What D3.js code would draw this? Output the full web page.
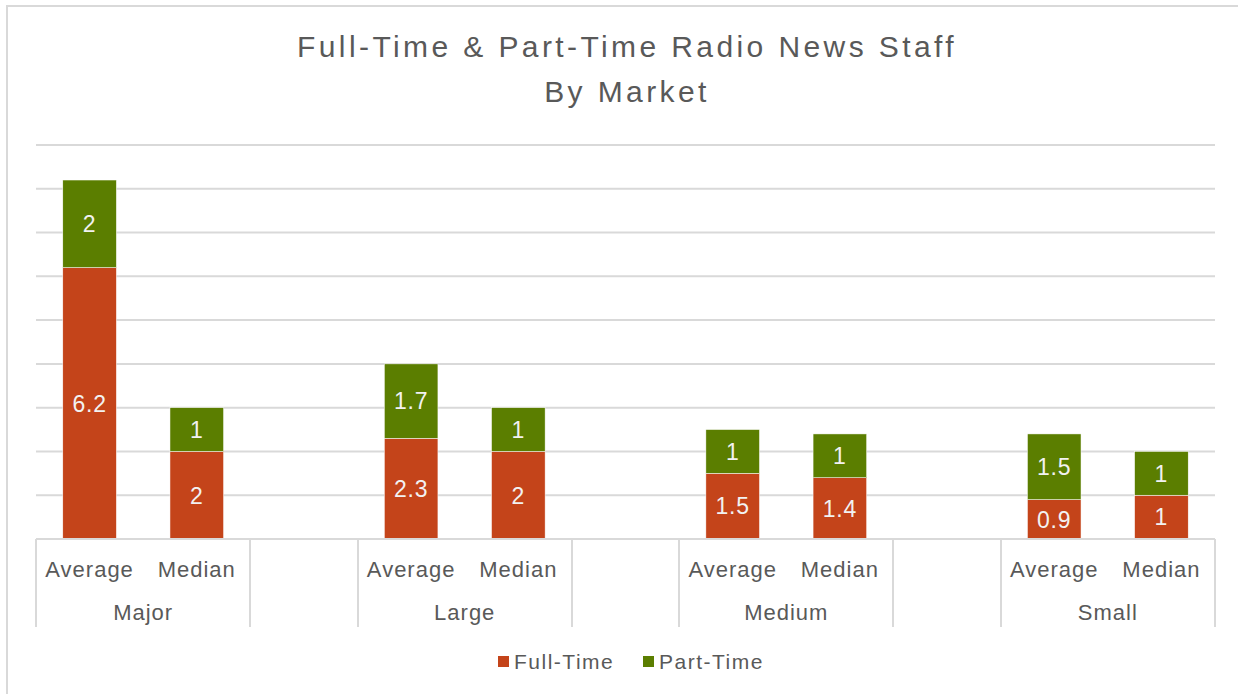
<!DOCTYPE html>
<html>
<head>
<meta charset="utf-8">
<script src="https://cdn.jsdelivr.net/npm/d3@7"></script>
<style>
  html, body { margin: 0; padding: 0; background: #ffffff; }
  svg { display: block; }
  text { font-family: "Liberation Sans", Arial, sans-serif; }
</style>
</head>
<body>
<svg id="chart" width="1238" height="694"></svg>
<script>
// Market groups and the two measures shown in each group
const markets = ["Major", "Large", "Medium", "Small"];
const measures = ["Average", "Median"];

// Staff counts, ordered market by market, Average then Median
const fullTime = [6.2, 2, 2.3, 2, 1.5, 1.4, 0.9, 1];
const partTime = [2, 1, 1.7, 1, 1, 1, 1.5, 1];

const seriesNames = ["Full-Time", "Part-Time"];
const seriesColors = ["#C4441A", "#5B7E00"];

const yTicks = [0, 1, 2, 3, 4, 5, 6, 7, 8, 9];

// Build the slot list: each market contributes two bars, followed by an empty spacer slot
const slots = [];
markets.forEach((m, mi) => {
  measures.forEach((s, si) => {
    const i = mi * measures.length + si;
    slots.push({ key: m + "|" + s, market: m, measure: s, ft: fullTime[i], pt: partTime[i] });
  });
  if (mi < markets.length - 1) slots.push({ key: "gap" + mi, market: null, measure: "" });
});

const svg = d3.select("#chart");
const W = 1238, H = 694;
const plot = { left: 36, right: 1215, top: 145, bottom: 539 };

// Outer chart frame
svg.append("rect")
  .attr("x", 7).attr("y", 6)
  .attr("width", W + 10).attr("height", H + 10)
  .attr("fill", "none").attr("stroke", "#D9D9D9").attr("stroke-width", 2);

// Title
const title = svg.append("text")
  .attr("text-anchor", "middle")
  .attr("fill", "#595959")
  .attr("font-size", 30)
  .attr("letter-spacing", 3.4);
title.append("tspan").attr("x", 627).attr("y", 57).text("Full-Time & Part-Time Radio News Staff");
title.append("tspan").attr("x", 627).attr("y", 102).text("By Market");

const x = d3.scaleBand()
  .domain(slots.map(d => d.key))
  .range([plot.left, plot.right])
  .paddingInner(0.5)
  .paddingOuter(0.25);

const y = d3.scaleLinear()
  .domain([0, 9])
  .range([plot.bottom, plot.top]);

// Horizontal gridlines
svg.append("g")
  .selectAll("line")
  .data(yTicks)
  .join("line")
  .attr("x1", plot.left).attr("x2", plot.right)
  .attr("y1", d => y(d)).attr("y2", d => y(d))
  .attr("stroke", "#D9D9D9").attr("stroke-width", 2);

// Stacked bars
const stackData = slots.filter(d => d.market).map(d => ({ key: d.key, "Full-Time": d.ft, "Part-Time": d.pt }));
const stacked = d3.stack().keys(seriesNames)(stackData);

const barG = svg.append("g");
stacked.forEach((layer, li) => {
  const g = barG.append("g");
  g.selectAll("rect")
    .data(layer)
    .join("rect")
    .attr("x", d => x(d.data.key))
    .attr("width", x.bandwidth())
    .attr("y", d => y(d[1]))
    .attr("height", d => y(d[0]) - y(d[1]))
    .attr("fill", seriesColors[li])
    .attr("stroke", "#ffffff").attr("stroke-width", 0.5);
  g.selectAll("text")
    .data(layer)
    .join("text")
    .attr("x", d => x(d.data.key) + x.bandwidth() / 2)
    .attr("y", d => (y(d[0]) + y(d[1])) / 2)
    .attr("dy", "0.36em")
    .attr("text-anchor", "middle")
    .attr("fill", "#F2F2F2")
    .attr("font-size", 23)
    .attr("letter-spacing", 0.8)
    .text(d => d.data[seriesNames[li]]);
});

// Category axis: measure labels, market labels and separators
const axisG = svg.append("g");
const step = x.step();
const slotLeft = key => x(key) - (step - x.bandwidth()) / 2;

axisG.append("line")
  .attr("x1", plot.left).attr("x2", plot.right)
  .attr("y1", plot.bottom).attr("y2", plot.bottom)
  .attr("stroke", "#D9D9D9").attr("stroke-width", 2);

axisG.selectAll("text.measure")
  .data(slots.filter(d => d.market))
  .join("text")
  .attr("class", "measure")
  .attr("x", d => x(d.key) + x.bandwidth() / 2)
  .attr("y", 577)
  .attr("text-anchor", "middle")
  .attr("fill", "#595959")
  .attr("font-size", 22)
  .attr("letter-spacing", 1)
  .text(d => d.measure);

// Group spans: each market pair and each spacer
const groups = [];
slots.forEach(d => {
  const key = d.market || d.key;
  const last = groups[groups.length - 1];
  if (last && last.key === key) last.end = slotLeft(d.key) + step;
  else groups.push({ key, label: d.market || "", start: slotLeft(d.key), end: slotLeft(d.key) + step });
});

const edges = Array.from(new Set(groups.flatMap(g => [g.start, g.end])));
axisG.selectAll("line.sep")
  .data(edges)
  .join("line")
  .attr("class", "sep")
  .attr("x1", d => Math.round(d)).attr("x2", d => Math.round(d))
  .attr("y1", plot.bottom).attr("y2", 627)
  .attr("stroke", "#D9D9D9").attr("stroke-width", 2);

axisG.selectAll("text.market")
  .data(groups.filter(g => g.label))
  .join("text")
  .attr("class", "market")
  .attr("x", g => (g.start + g.end) / 2)
  .attr("y", 620)
  .attr("text-anchor", "middle")
  .attr("fill", "#595959")
  .attr("font-size", 22)
  .attr("letter-spacing", 1)
  .text(g => g.label);

// Legend
const legend = svg.append("g");
const legendItems = [
  { name: seriesNames[0], color: seriesColors[0], x: 498 },
  { name: seriesNames[1], color: seriesColors[1], x: 643 }
];
legendItems.forEach(it => {
  legend.append("rect")
    .attr("x", it.x).attr("y", 656)
    .attr("width", 11).attr("height", 11)
    .attr("fill", it.color);
  legend.append("text")
    .attr("x", it.x + 16).attr("y", 669)
    .attr("fill", "#595959")
    .attr("font-size", 21)
    .attr("letter-spacing", 1.5)
    .text(it.name);
});
</script>
</body>
</html>
